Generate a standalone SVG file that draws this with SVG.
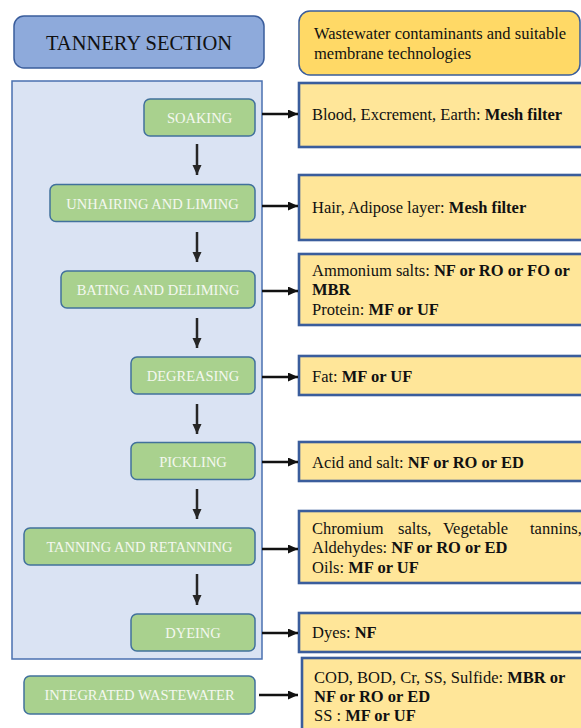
<svg xmlns="http://www.w3.org/2000/svg" width="581" height="728" viewBox="0 0 581 728">
<defs>
<style>
text{font-family:"Liberation Serif","Times New Roman",serif;fill:#111;}
.step rect{fill:#a9d18e;stroke:#41719c;stroke-width:1.5;}
.step text{fill:#f4f8f0;font-size:14.5px;text-anchor:middle;}
.info rect{fill:#ffe699;stroke:#3a5d9c;stroke-width:2.6;}
.info text{font-size:16.5px;}
.b{font-weight:bold;}
.conn line{stroke:#111;stroke-width:2.5;}
.down line{stroke:#262626;stroke-width:2.5;}
</style>
<marker id="ah" markerUnits="userSpaceOnUse" markerWidth="11" markerHeight="10" refX="10" refY="4.5" orient="auto">
<path d="M0,0 L10,4.5 L0,9 z" fill="#111"/>
</marker>
<marker id="ad" markerUnits="userSpaceOnUse" markerWidth="11" markerHeight="10" refX="10" refY="4.5" orient="auto">
<path d="M0,0 L10,4.5 L0,9 z" fill="#262626"/>
</marker>
</defs>
<rect width="581" height="728" fill="#ffffff"/>

<g id="title">
<rect x="14" y="16" width="250" height="52" rx="10" fill="#8eaadb" stroke="#3a5d9c" stroke-width="1.5"/>
<text x="139" y="50" font-size="20.5" text-anchor="middle">TANNERY SECTION</text>
</g>
<g id="header">
<rect x="299" y="11" width="281" height="64" rx="11" fill="#ffd966" stroke="#3a5d9c" stroke-width="1.5"/>
<text x="314" y="39" font-size="16.5">Wastewater contaminants and suitable</text>
<text x="314" y="59" font-size="16.5">membrane technologies</text>
</g>
<g id="panel">
<rect x="12" y="81" width="250" height="578" fill="#dae3f3" stroke="#4a70b0" stroke-width="1.5"/>
</g>

<g id="soaking" class="step"><rect x="144" y="99" width="111" height="37" rx="6"/><text x="199.5" y="123">SOAKING</text></g>
<g id="unhairing" class="step"><rect x="50" y="184.5" width="205" height="37" rx="6"/><text x="152.5" y="208.5">UNHAIRING AND LIMING</text></g>
<g id="bating" class="step"><rect x="61" y="271" width="194" height="37" rx="6"/><text x="158" y="295">BATING AND DELIMING</text></g>
<g id="degreasing" class="step"><rect x="131" y="357" width="124" height="37" rx="6"/><text x="193" y="381">DEGREASING</text></g>
<g id="pickling" class="step"><rect x="131" y="442.5" width="124" height="37" rx="6"/><text x="193" y="466.5">PICKLING</text></g>
<g id="tanning" class="step"><rect x="24" y="528" width="231" height="37" rx="6"/><text x="139.5" y="552">TANNING AND RETANNING</text></g>
<g id="dyeing" class="step"><rect x="131" y="614" width="124" height="37" rx="6"/><text x="193" y="638">DYEING</text></g>
<g id="integrated" class="step"><rect x="24" y="676" width="231" height="38" rx="6"/><text x="139.5" y="700">INTEGRATED WASTEWATER</text></g>

<g id="info-soaking" class="info"><rect x="299" y="83" width="300" height="64"/><text x="312" y="120">Blood, Excrement, Earth: <tspan class="b">Mesh filter</tspan></text></g>
<g id="info-unhairing" class="info"><rect x="299" y="175" width="300" height="65"/><text x="312" y="213">Hair, Adipose layer: <tspan class="b">Mesh filter</tspan></text></g>
<g id="info-bating" class="info"><rect x="299" y="254" width="300" height="71"/>
<text x="312" y="276">Ammonium salts: <tspan class="b">NF or RO or FO or</tspan></text>
<text x="312" y="295" class="b">MBR</text>
<text x="312" y="315">Protein: <tspan class="b">MF or UF</tspan></text></g>
<g id="info-degreasing" class="info"><rect x="299" y="356" width="300" height="39"/><text x="312" y="382">Fat: <tspan class="b">MF or UF</tspan></text></g>
<g id="info-pickling" class="info"><rect x="299" y="442" width="300" height="39"/><text x="312" y="468">Acid and salt: <tspan class="b">NF or RO or ED</tspan></text></g>
<g id="info-tanning" class="info"><rect x="299" y="511" width="300" height="72"/>
<text x="312" y="534">Chromium</text><text x="398" y="534">salts,</text><text x="443" y="534">Vegetable</text><text x="530" y="534">tannins,</text>
<text x="312" y="553">Aldehydes: <tspan class="b">NF or RO or ED</tspan></text>
<text x="312" y="573">Oils: <tspan class="b">MF or UF</tspan></text></g>
<g id="info-dyeing" class="info"><rect x="299" y="613" width="300" height="39"/><text x="312" y="638">Dyes: <tspan class="b">NF</tspan></text></g>
<g id="info-integrated" class="info"><rect x="302" y="658" width="300" height="90"/>
<text x="314" y="683">COD, BOD, Cr, SS, Sulfide: <tspan class="b">MBR or</tspan></text>
<text x="314" y="702" class="b">NF or RO or ED</text>
<text x="314" y="721">SS : <tspan class="b">MF or UF</tspan></text></g>

<g id="connectors">
<g class="down">
<line x1="197" y1="144" x2="197" y2="175" marker-end="url(#ad)"/>
<line x1="197" y1="232" x2="197" y2="262" marker-end="url(#ad)"/>
<line x1="197" y1="318" x2="197" y2="348" marker-end="url(#ad)"/>
<line x1="197" y1="404" x2="197" y2="434" marker-end="url(#ad)"/>
<line x1="197" y1="489" x2="197" y2="519" marker-end="url(#ad)"/>
<line x1="197" y1="574" x2="197" y2="605" marker-end="url(#ad)"/>
</g>
<g class="conn">
<line x1="262" y1="114" x2="298" y2="114" marker-end="url(#ah)"/>
<line x1="262" y1="206" x2="298" y2="206" marker-end="url(#ah)"/>
<line x1="262" y1="291" x2="298" y2="291" marker-end="url(#ah)"/>
<line x1="262" y1="377" x2="298" y2="377" marker-end="url(#ah)"/>
<line x1="262" y1="462" x2="298" y2="462" marker-end="url(#ah)"/>
<line x1="262" y1="549" x2="298" y2="549" marker-end="url(#ah)"/>
<line x1="262" y1="633" x2="298" y2="633" marker-end="url(#ah)"/>
<line x1="259" y1="695" x2="298" y2="695" marker-end="url(#ah)"/>
</g>
</g>
</svg>
